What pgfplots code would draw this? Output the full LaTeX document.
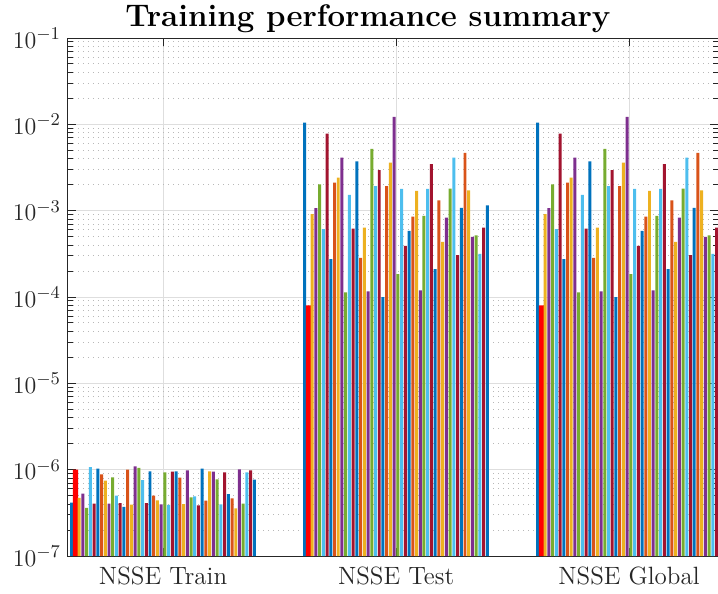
\documentclass[border=0pt]{standalone}
\usepackage{pgfplots}
\usepackage{pgfplotstable}
\pgfplotsset{compat=1.18}
\definecolor{c1}{rgb}{0,0.447,0.741}
\definecolor{c2}{rgb}{0.85,0.325,0.098}
\definecolor{c3}{rgb}{0.929,0.694,0.125}
\definecolor{c4}{rgb}{0.494,0.184,0.556}
\definecolor{c5}{rgb}{0.466,0.674,0.188}
\definecolor{c6}{rgb}{0.301,0.745,0.933}
\definecolor{c7}{rgb}{0.635,0.078,0.184}
\definecolor{axgray}{rgb}{0.15,0.15,0.15}
% one row per bar series: values for the groups NSSE Train, NSSE Test, NSSE Global
\pgfplotstableread{
id  train    test     global
s1  4.15e-7  1.05e-2  1.05e-2
s2  1.00e-6  8.00e-5  8.00e-5
s3  4.70e-7  9.10e-4  9.10e-4
s4  5.27e-7  1.07e-3  1.07e-3
s5  3.60e-7  2.02e-3  2.02e-3
s6  1.07e-6  6.10e-4  6.10e-4
s7  4.04e-7  7.80e-3  7.80e-3
s8  1.03e-6  2.74e-4  2.74e-4
s9  8.83e-7  2.11e-3  2.11e-3
s10 7.46e-7  2.41e-3  2.41e-3
s11 4.04e-7  4.11e-3  4.11e-3
s12 8.15e-7  1.13e-4  1.13e-4
s13 5.00e-7  1.52e-3  1.52e-3
s14 4.11e-7  6.20e-4  6.20e-4
s15 3.70e-7  3.73e-3  3.73e-3
s16 1.00e-6  2.84e-4  2.84e-4
s17 3.94e-7  6.37e-4  6.37e-4
s18 1.09e-6  1.16e-4  1.16e-4
s19 1.05e-6  5.20e-3  5.20e-3
s20 7.59e-7  1.93e-3  1.93e-3
s21 4.11e-7  2.94e-3  2.94e-3
s22 9.57e-7  9.95e-5  9.95e-5
s23 5.00e-7  1.93e-3  1.93e-3
s24 4.42e-7  3.60e-3  3.60e-3
s25 3.96e-7  1.22e-2  1.22e-2
s26 9.31e-7  1.84e-4  1.84e-4
s27 3.90e-7  1.79e-3  1.79e-3
s28 9.48e-7  3.91e-4  3.91e-4
s29 9.57e-7  5.82e-4  5.82e-4
s30 8.08e-7  8.53e-4  8.53e-4
s31 4.00e-7  1.69e-3  1.69e-3
s32 9.80e-7  1.19e-4  1.19e-4
s33 4.79e-7  8.69e-4  8.69e-4
s34 4.91e-7  1.79e-3  1.79e-3
s35 3.87e-7  3.47e-3  3.47e-3
s36 1.03e-6  2.10e-4  2.10e-4
s37 4.38e-7  1.32e-3  1.32e-3
s38 9.57e-7  4.35e-4  4.35e-4
s39 9.48e-7  8.32e-4  8.32e-4
s40 7.73e-7  1.80e-3  1.80e-3
s41 3.96e-7  4.11e-3  4.11e-3
s42 9.31e-7  3.05e-4  3.05e-4
s43 5.22e-7  1.08e-3  1.08e-3
s44 4.66e-7  4.66e-3  4.66e-3
s45 3.56e-7  1.72e-3  1.72e-3
s46 1.01e-6  4.97e-4  4.97e-4
s47 4.04e-7  5.19e-4  5.19e-4
s48 9.31e-7  3.16e-4  3.16e-4
s49 9.80e-7  6.37e-4  6.37e-4
s50 7.66e-7  1.15e-3  1.15e-3
}\raw
\pgfplotstabletranspose[colnames from=id,input colnames to=grp]\tbl{\raw}
\begin{document}
\begin{tikzpicture}
\begin{axis}[
  scale only axis, width=325pt, height=259pt,
  ymode=log, ymin=1e-7, ymax=1e-1, log origin=infty,
  xmin=0.592, xmax=3.382,
  ybar,
  xtick={1,2,3}, xticklabels={NSSE Train,NSSE Test,NSSE Global},
  ytick={1e-7,1e-6,1e-5,1e-4,1e-3,1e-2,1e-1},
  tick align=inside,
  major tick length=4pt, minor tick length=2.5pt,
  axis line style={axgray, line width=0.5pt},
  tick style={axgray, line width=0.5pt},
  ticklabel style={font=\fontsize{12.5}{14}\selectfont, text=axgray},
  xticklabel style={yshift=-2pt},
  xmajorgrids, ymajorgrids, yminorgrids,
  major grid style={black!13, line width=0.5pt},
  minor grid style={black!28, dash pattern=on 0.7pt off 1.8pt, line width=0.5pt},
  title={Training performance summary},
  title style={at={(0.4615,1)}, anchor=base, yshift=0pt,
               font=\fontsize{15.6}{17}\selectfont\bfseries},
  cycle list={{fill=c1,draw=none},{fill=c2,draw=none},{fill=c3,draw=none},
              {fill=c4,draw=none},{fill=c5,draw=none},{fill=c6,draw=none},
              {fill=c7,draw=none}},
]
\addplot+[bar shift=0pt, bar width=0.0128]
  table[x expr=\coordindex+0.6+0.5*0.016, y=s1]{\tbl};
\addplot+[bar shift=0pt, bar width=0.022, fill=red, draw=none]
  table[x expr=\coordindex+0.6+1.5*0.016, y=s2]{\tbl};
\pgfplotsinvokeforeach{3,...,50}{
  \addplot+[bar shift=0pt, bar width=0.0128]
    table[x expr=\coordindex+0.6+(#1-0.5)*0.016, y=s#1]{\tbl};
}
\end{axis}
\pgfresetboundingbox
\path[use as bounding box] ([shift={(-34pt,-19pt)}]current axis.south west)
  rectangle ([shift={(0pt,19pt)}]current axis.north east);
\end{tikzpicture}
\end{document}
